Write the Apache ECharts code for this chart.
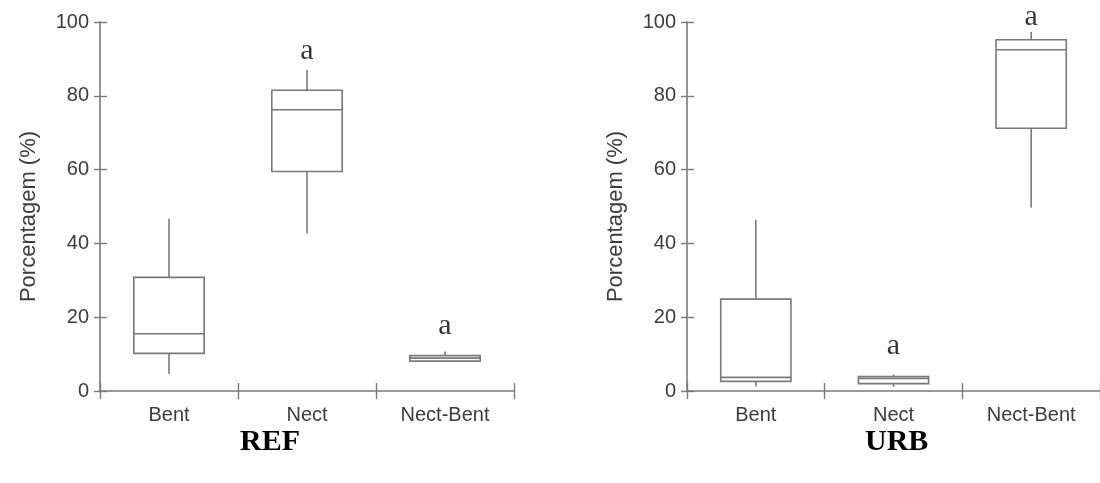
<!DOCTYPE html>
<html>
<head>
<meta charset="utf-8">
<script src="https://cdn.jsdelivr.net/npm/echarts@6/dist/echarts.min.js"></script>
<style>
  html, body { margin: 0; padding: 0; background: #fff; }
  #chart { width: 1100px; height: 483px; }
</style>
</head>
<body>
<div id="chart"></div>
<script>
// Categories shared by both panels
const categories = ['Bent', 'Nect', 'Nect-Bent'];

// Five-number summaries per category: [min, Q1, median, Q3, max]
const refBoxes = [
  [4.6, 10.2, 15.5, 30.8, 46.7],
  [42.7, 59.5, 76.2, 81.5, 87.0],
  [8.1, 8.1, 8.9, 9.6, 10.7]
];
const urbBoxes = [
  [1.3, 2.6, 3.7, 24.9, 46.4],
  [1.2, 2.0, 3.4, 3.9, 4.5],
  [49.7, 71.2, 92.5, 95.2, 97.3]
];

// Significance letters and the height (in %) where each is written
const refLetters = ['', 'a', 'a'];
const refLetterY = [null, 92.0, 17.6];
const urbLetters = ['', 'a', 'a'];
const urbLetterY = [null, 12.2, 101.4];

// Value axis ticks
const yMin = 0, yMax = 100, yStep = 20;

const panelTitles = ['REF', 'URB'];
const yTitle = 'Porcentagem (%)';

const lineColor = '#7a7a7a';
const textColor = '#3c3c3c';
const sansFont = '"Liberation Sans", Arial, sans-serif';
const serifFont = '"Liberation Serif", "Times New Roman", serif';

function boxRender(params, api) {
  const x = api.value(0);
  const lo = api.coord([x, api.value(1)]);
  const q1 = api.coord([x, api.value(2)]);
  const md = api.coord([x, api.value(3)]);
  const q3 = api.coord([x, api.value(4)]);
  const hi = api.coord([x, api.value(5)]);
  const half = api.size([1, 0])[0] * 0.255;
  const cx = lo[0];
  const st = { stroke: lineColor, lineWidth: 1.6, fill: null };
  return {
    type: 'group',
    children: [
      { type: 'line', shape: { x1: cx, y1: hi[1], x2: cx, y2: q3[1] }, style: st },
      { type: 'line', shape: { x1: cx, y1: q1[1], x2: cx, y2: lo[1] }, style: st },
      { type: 'rect', shape: { x: cx - half, y: q3[1], width: 2 * half, height: q1[1] - q3[1] },
        style: { fill: '#fff', stroke: lineColor, lineWidth: 1.6 } },
      { type: 'line', shape: { x1: cx - half, y1: md[1], x2: cx + half, y2: md[1] }, style: st }
    ]
  };
}

function boxData(boxes) {
  return boxes.map((b, i) => [i, b[0], b[1], b[2], b[3], b[4]]);
}
function letterData(letters, ys) {
  const out = [];
  letters.forEach((l, i) => { if (l) out.push([i, ys[i], l]); });
  return out;
}

const grids = [
  { left: 100, top: 22, width: 414, height: 369 },
  { left: 687, top: 22, width: 420, height: 369 }
];

const xAxes = [], yAxes = [], series = [];
[refBoxes, urbBoxes].forEach((boxes, g) => {
  // main category axis: line, labels, outer ticks
  xAxes.push({
    type: 'category', gridIndex: g, data: categories, position: 'bottom',
    boundaryGap: true,
    axisLine: { lineStyle: { color: lineColor, width: 1.6 } },
    axisTick: { show: true, length: 8, lineStyle: { color: lineColor, width: 1.4 } },
    axisLabel: { color: textColor, fontFamily: sansFont, fontSize: 20, margin: 14 },
    splitLine: { show: false }
  });
  // companion axis for the inner half of each tick
  xAxes.push({
    type: 'category', gridIndex: g, data: categories, position: 'bottom',
    boundaryGap: true,
    axisLine: { show: false },
    axisTick: { show: true, inside: true, length: 8, lineStyle: { color: lineColor, width: 1.4 } },
    axisLabel: { show: false },
    splitLine: { show: false }
  });
  yAxes.push({
    type: 'value', gridIndex: g, min: yMin, max: yMax, interval: yStep, position: 'left',
    name: yTitle, nameLocation: 'middle', nameGap: 60, nameRotate: 90,
    nameTextStyle: { color: textColor, fontFamily: sansFont, fontSize: 22, padding: [0, 20, 0, 0] },
    axisLine: { show: true, lineStyle: { color: lineColor, width: 1.6 } },
    axisTick: { show: true, length: 6, lineStyle: { color: lineColor, width: 1.4 } },
    axisLabel: { color: textColor, fontFamily: sansFont, fontSize: 20, margin: 11 },
    splitLine: { show: false }
  });
  yAxes.push({
    type: 'value', gridIndex: g, min: yMin, max: yMax, interval: yStep, position: 'left',
    axisLine: { show: false },
    axisTick: { show: true, inside: true, length: 7, lineStyle: { color: lineColor, width: 1.4 } },
    axisLabel: { show: false },
    splitLine: { show: false }
  });
  series.push({
    type: 'custom', xAxisIndex: 2 * g, yAxisIndex: 2 * g,
    renderItem: boxRender, data: boxData(boxes), clip: false, silent: true
  });
  const letters = g === 0 ? letterData(refLetters, refLetterY) : letterData(urbLetters, urbLetterY);
  series.push({
    type: 'scatter', xAxisIndex: 2 * g, yAxisIndex: 2 * g, symbolSize: 0, clip: false, silent: true,
    data: letters,
    label: {
      show: true, position: 'inside', formatter: p => p.data[2],
      color: '#000', fontFamily: serifFont, fontSize: 30
    }
  });
});

const chart = echarts.init(document.getElementById('chart'), null, { renderer: 'canvas' });
chart.setOption({
  animation: false,
  backgroundColor: '#fff',
  grid: grids,
  xAxis: xAxes,
  yAxis: yAxes,
  series: series,
  graphic: panelTitles.map((t, i) => ({
    type: 'text',
    left: i === 0 ? 240 : 865,
    top: 427,
    style: { text: t, fill: '#000', font: 'bold 30px ' + serifFont }
  }))
});
</script>
</body>
</html>
